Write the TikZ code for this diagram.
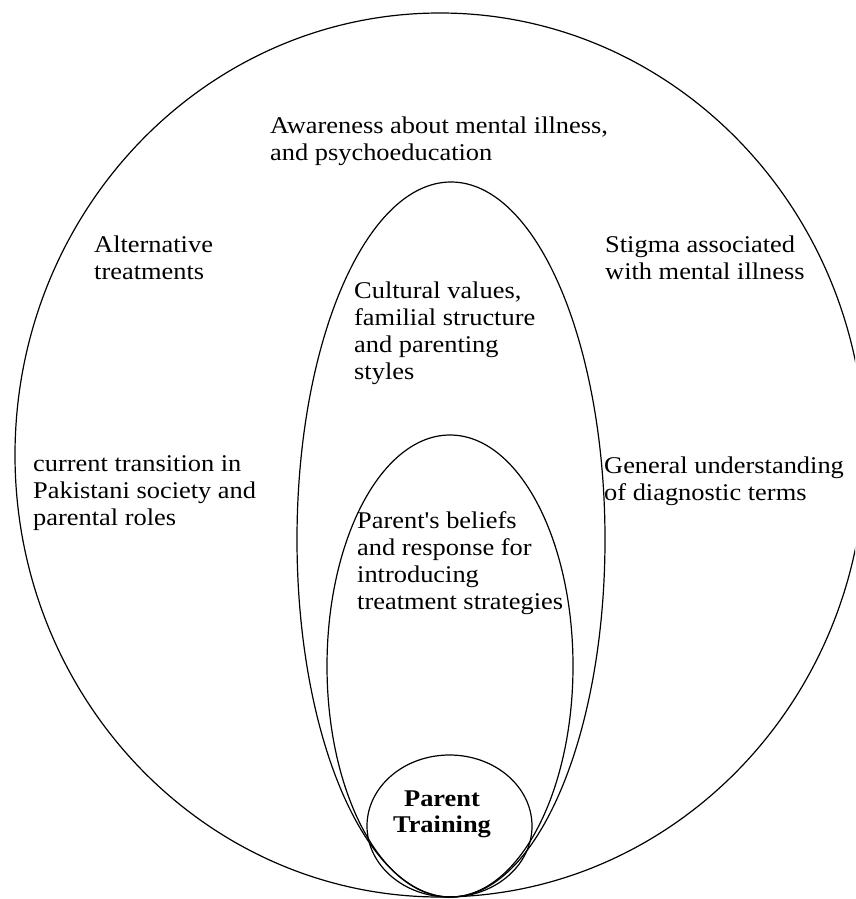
\documentclass[tikz,border=0pt]{standalone}
\usepackage{fontspec}
\setmainfont{Liberation Serif}[FakeStretch=1.1,Ligatures=TeXOff]
\usetikzlibrary{shapes.geometric}
\begin{document}
\begin{tikzpicture}[x=1pt,y=-1pt,
  ring/.style={draw=black,line width=1.2pt},
  label/.style={anchor=north west,inner sep=0pt,align=left,font=\fontsize{24}{27}\selectfont}]
\useasboundingbox (0,0) rectangle (855,899);
\begin{scope}
\clip (0,0) rectangle (855,899);
\draw[ring] (440,455) ellipse [x radius=425, y radius=442];
\end{scope}
\draw[ring] (451,539.5) ellipse [x radius=154, y radius=357.5];
\draw[ring] (450,666) ellipse [x radius=123, y radius=231];
\node[ring,ellipse,minimum width=165pt,minimum height=142pt,inner sep=0pt] (pt) at (449.5,826) {};
\node[anchor=north,align=center,inner sep=0pt,font=\fontsize{24}{26}\selectfont\bfseries] (ptl) at (442,790.5) {Parent\\Training};
\node[label] (aw) at (270,117) {Awareness about mental illness,\\and psychoeducation};
\node[label] (alt) at (94,235.5) {Alternative\\treatments};
\node[label] (st) at (605,235.5) {Stigma associated\\with mental illness};
\node[label] (cv) at (354,282) {Cultural values,\\familial structure\\and parenting\\styles};
\node[label] (ct) at (33,455.5) {current transition in\\Pakistani society and\\parental roles};
\node[label] (gu) at (604,457) {General understanding\\of diagnostic terms};
\node[label] (pb) at (357,511) {Parent's beliefs\\and response for\\introducing\\treatment strategies};
\end{tikzpicture}
\end{document}
